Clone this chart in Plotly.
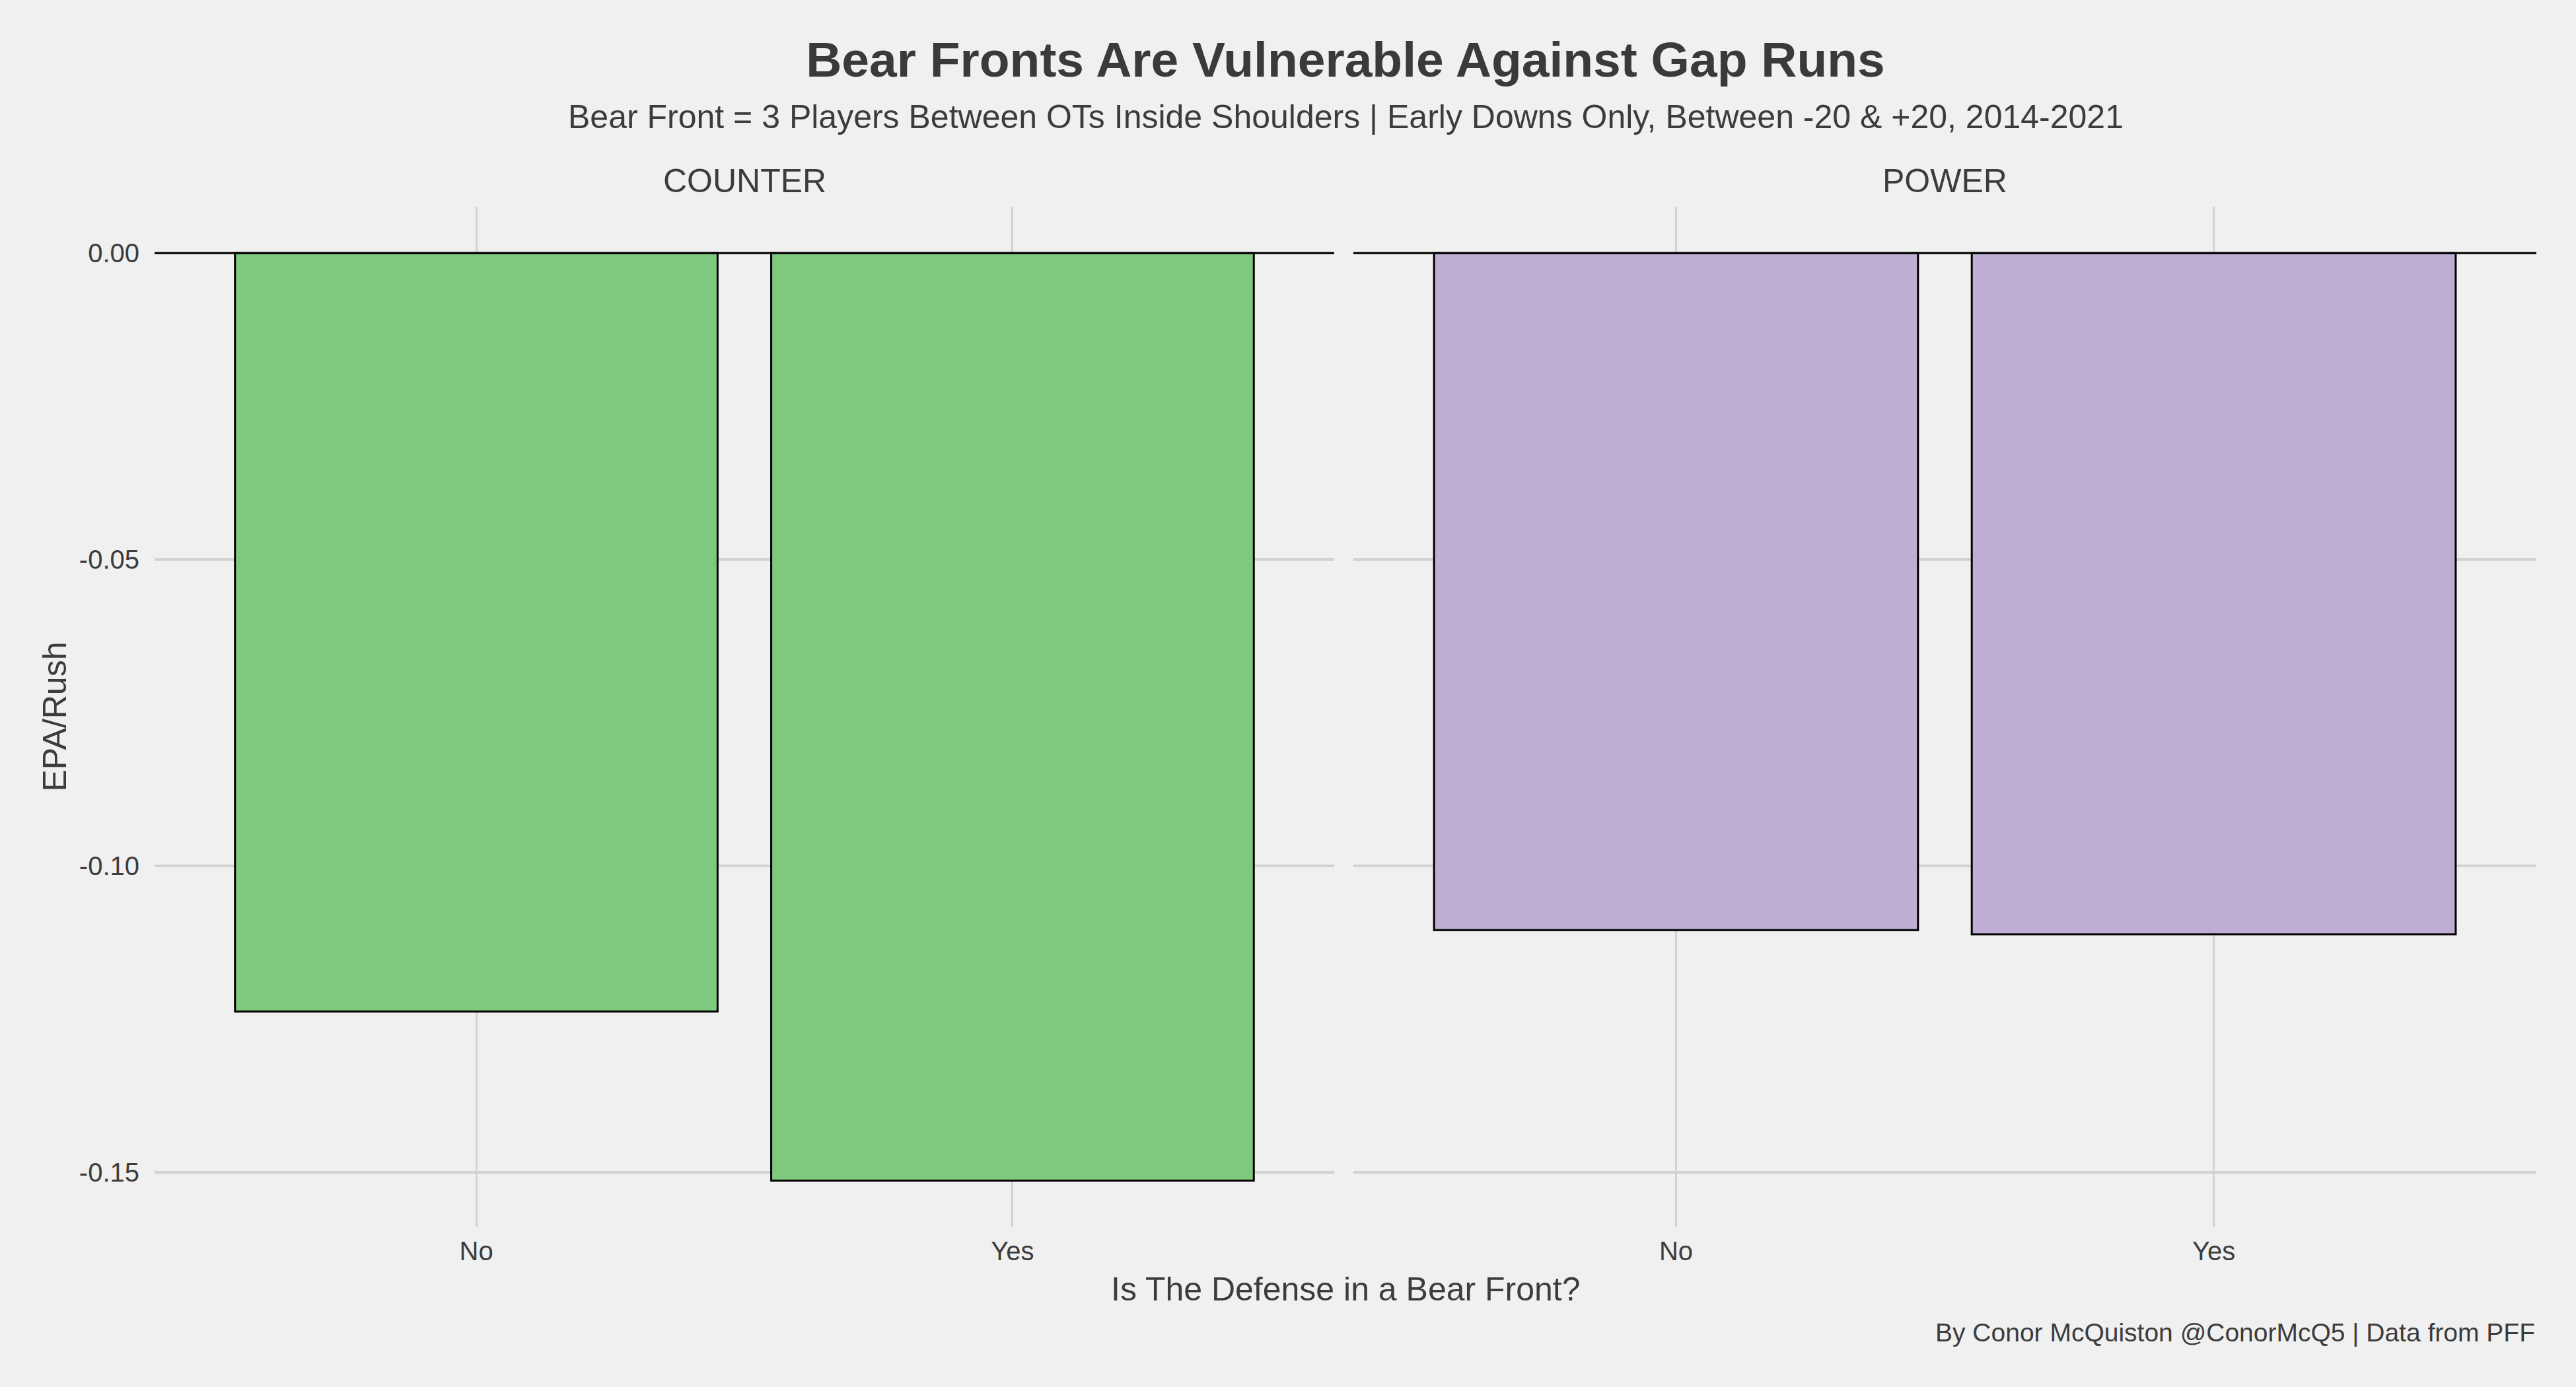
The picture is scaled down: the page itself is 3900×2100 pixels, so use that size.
import plotly.graph_objects as go

# ---- data ----
panels = ["COUNTER", "POWER"]
bear_front = ["No", "Yes"]
counter_epa = [-0.1238, -0.1514]
power_epa = [-0.1105, -0.1112]
panel_colors = ["#7fc97f", "#beaed4"]
y_ticks = [0.00, -0.05, -0.10, -0.15]

title = "<b>Bear Fronts Are Vulnerable Against Gap Runs</b>"
subtitle = "Bear Front = 3 Players Between OTs Inside Shoulders | Early Downs Only, Between -20 & +20, 2014-2021"
x_title = "Is The Defense in a Bear Front?"
y_title = "EPA/Rush"
caption = "By Conor McQuiston @ConorMcQ5 | Data from PFF"

FONT = "Liberation Sans, Arial, sans-serif"
TXT = "#3c3c3c"
BG = "#f0f0f0"
GRID = "#d2d2d2"

W, H = 3900, 2100
ML, MR, MT, MB = 234, 60, 313, 242
plot_w = W - ML - MR
plot_h = H - MT - MB

def px_to_paper_y(py):
    return (H - MB - py) / plot_h

def px_to_paper_x(px):
    return (px - ML) / plot_w

fig = go.Figure()

series = [counter_epa, power_epa]
axes = [("x", "y"), ("x2", "y2")]
for i, vals in enumerate(series):
    fig.add_trace(go.Bar(
        x=bear_front, y=vals, width=0.9,
        marker=dict(color=panel_colors[i], line=dict(color="black", width=3)),
        xaxis=axes[i][0], yaxis=axes[i][1], showlegend=False,
    ))

d1_end = px_to_paper_x(2020)
d2_start = px_to_paper_x(2049)

yr = [-0.1590, 0.00757]
common_x = dict(
    type="category", range=[-0.6, 1.6],
    showgrid=True, gridcolor=GRID, gridwidth=3,
    zeroline=False, showline=False, ticks="",
    tickfont=dict(family=FONT, size=40, color=TXT),
    ticklabelstandoff=9,
)
fig.update_layout(
    xaxis=dict(domain=[0, d1_end], anchor="y", **common_x),
    xaxis2=dict(domain=[d2_start, 1], anchor="y2", **common_x),
    yaxis=dict(domain=[0, 1], range=yr, anchor="x",
               tickvals=y_ticks, ticktext=[f"{v:.2f}" for v in y_ticks],
               showgrid=True, gridcolor=GRID, gridwidth=4, zeroline=False,
               showline=False, ticks="",
               tickfont=dict(family=FONT, size=40, color=TXT),
               ticklabelstandoff=22),
    yaxis2=dict(domain=[0, 1], range=yr, anchor="x2",
                tickvals=y_ticks, showticklabels=False,
                showgrid=True, gridcolor=GRID, gridwidth=4, zeroline=False,
                showline=False, ticks="", matches="y"),
)

# zero lines (geom_hline) in each panel
for xa, ya in axes:
    fig.add_shape(type="line", xref=f"{xa} domain", yref=ya,
                  x0=0, x1=1, y0=0, y1=0,
                  line=dict(color="black", width=3), layer="above")

fig.update_layout(
    width=W, height=H,
    margin=dict(l=ML, r=MR, t=MT, b=MB),
    paper_bgcolor=BG, plot_bgcolor=BG,
    font=dict(family=FONT, color=TXT),
    title=dict(text=title, x=0.5, xref="paper", xanchor="center",
               y=1 - 90 / H, yanchor="middle",
               font=dict(family=FONT, size=75, color="#3a3a3a")),
)

ann = []
ann.append(dict(text=subtitle, xref="paper", yref="paper", x=0.5, y=px_to_paper_y(177),
                xanchor="center", yanchor="middle", showarrow=False,
                font=dict(family=FONT, size=50, color=TXT)))
for i, p in enumerate(panels):
    cx = (0 + d1_end) / 2 if i == 0 else (d2_start + 1) / 2
    ann.append(dict(text=p, xref="paper", yref="paper", x=cx, y=px_to_paper_y(274),
                    xanchor="center", yanchor="middle", showarrow=False,
                    font=dict(family=FONT, size=50, color=TXT)))
ann.append(dict(text=x_title, xref="paper", yref="paper", x=0.5, y=px_to_paper_y(1952),
                xanchor="center", yanchor="middle", showarrow=False,
                font=dict(family=FONT, size=50, color=TXT)))
ann.append(dict(text=y_title, xref="paper", yref="paper", x=px_to_paper_x(82), y=0.5,
                xanchor="center", yanchor="middle", showarrow=False, textangle=-90,
                font=dict(family=FONT, size=50, color=TXT)))
ann.append(dict(text=caption, xref="paper", yref="paper", x=1, y=px_to_paper_y(2017),
                xanchor="right", yanchor="middle", showarrow=False,
                font=dict(family=FONT, size=39, color=TXT)))
fig.update_layout(annotations=ann)

fig.write_html(
    "out.html",
    config={"displayModeBar": False},
    post_script="document.body.style.margin='0';document.body.style.background='#f0f0f0';document.body.style.overflow='hidden';",
)
